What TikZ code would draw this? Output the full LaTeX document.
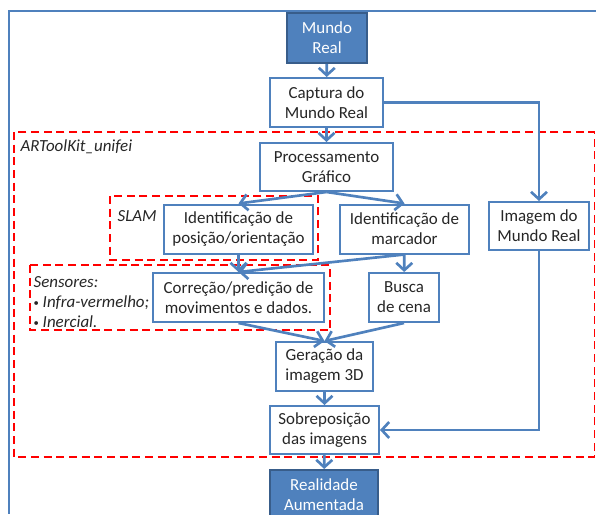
\documentclass[tikz,border=0pt]{standalone}
\usepackage{fontspec}
\setmainfont{Carlito}
\usetikzlibrary{arrows.meta}

\definecolor{azul}{RGB}{79,129,189}
\definecolor{azulescuro}{RGB}{56,93,138}
\definecolor{vermelho}{RGB}{255,0,0}

\newcommand{\marca}{{\upshape\raisebox{0.15ex}{\footnotesize\textbullet}}\ }

\begin{document}
\begin{tikzpicture}[
    x=0.75pt, y=-0.75pt,
    caixa/.style={
        rectangle, draw=azul, line width=1.5pt, fill=white,
        align=center, inner sep=1pt, text=black!85,
        font=\fontsize{12.7}{15}\selectfont
    },
    terminal/.style={
        caixa, draw=azulescuro, fill=azul, text=white
    },
    zona/.style={draw=vermelho, line width=1.3pt, dash pattern=on 6pt off 3.5pt},
    rotulo/.style={font=\fontsize{12.7}{15}\selectfont\itshape, text=black!85, inner sep=1pt},
    fluxo/.style={draw=azul, line width=2pt, -{Straight Barb[length=5.5pt, width=12pt]}}
]
\useasboundingbox (0,0) rectangle (596,514);

% --- Moldura ---
\draw[azul, line width=1.1pt] (596,11) -- (9,11) -- (9,514);

% --- Zonas tracejadas ---
\draw[zona] (14,132) rectangle (594.5,457);
\draw[zona] (110,196) rectangle (318,260);
\draw[zona] (30,265) rectangle (330,330);

\node[rotulo, anchor=west] (artoolkit) at (19,147) {ARToolKit\_unifei};
\node[rotulo, anchor=west] (slam) at (116,216) {SLAM};
\node[rotulo, anchor=north west, align=left] (sensores) at (32,275) {
    Sensores:\\
    \marca Infra-vermelho;\\
    \marca Inercial.
};

% --- Blocos ---
\node[terminal, minimum width=60pt, minimum height=37.5pt] (mundo) at (327,38) {Mundo\\Real};
\node[caixa, minimum width=84.75pt, minimum height=36.75pt] (captura) at (326.5,102.5) {Captura do\\Mundo Real};
\node[caixa, minimum width=99.75pt, minimum height=36pt] (processamento) at (326.5,167) {Processamento\\Gráfico};
\node[caixa, minimum width=111.75pt, minimum height=36.75pt] (posicao) at (238.5,229) {Identificação de\\posição/orientação};
\node[caixa, minimum width=96.75pt, minimum height=36.75pt] (marcador) at (404.5,229) {Identificação de\\marcador};
\node[caixa, minimum width=75pt, minimum height=36pt] (imagem) at (539,226) {Imagem do\\Mundo Real};
\node[caixa, minimum width=128.25pt, minimum height=36.75pt] (correcao) at (238.5,297.5) {Correção/predição de\\movimentos e dados.};
\node[caixa, minimum width=52.5pt, minimum height=36.75pt] (busca) at (404,297.5) {Busca\\de cena};
\node[caixa, minimum width=72.75pt, minimum height=36.75pt] (geracao) at (324.5,366.5) {Geração da\\imagem 3D};
\node[caixa, minimum width=81.75pt, minimum height=36pt] (sobreposicao) at (324.5,430) {Sobreposição\\das imagens};
\node[terminal, minimum width=81pt, minimum height=37.5pt] (realidade) at (324,495) {Realidade\\Aumentada};

% --- Conexoes ---
\draw[fluxo] (mundo) -- (captura);
\draw[fluxo] (captura) -- (processamento);
\draw[fluxo] (captura.east) -| (imagem.north);
\draw[fluxo] (processamento.south) -- (posicao.north);
\draw[fluxo] (processamento.south) -- (marcador.north);
\draw[fluxo] (posicao) -- (correcao);
\draw[fluxo] (marcador.south) -- (correcao.north);
\draw[fluxo] (marcador) -- (busca);
\draw[fluxo] (correcao.south) -- (geracao.north);
\draw[fluxo] (busca.south) -- (geracao.north);
\draw[fluxo] (geracao) -- (sobreposicao);
\draw[fluxo] (imagem.south) |- (sobreposicao.east);
\draw[fluxo] (sobreposicao) -- (realidade);

\end{tikzpicture}
\end{document}
